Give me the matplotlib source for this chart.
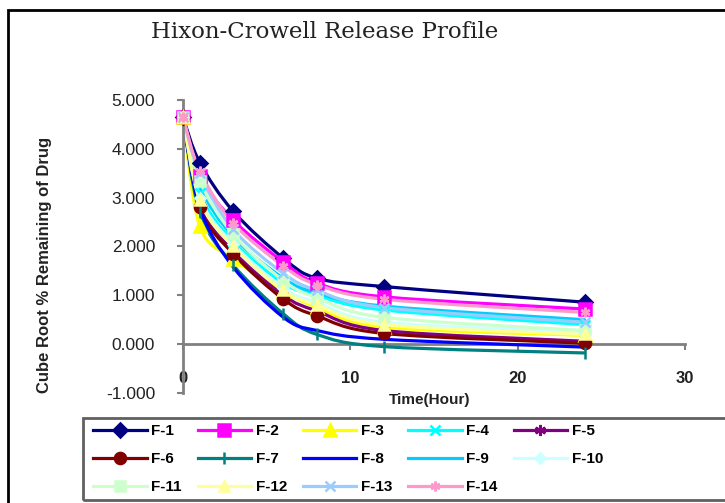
import matplotlib
matplotlib.use('Agg')
import matplotlib.pyplot as plt
import numpy as np
from matplotlib.path import Path
from matplotlib.patches import PathPatch, Rectangle
from matplotlib.lines import Line2D

# Data: cube root of % drug remaining vs time (hours)

hours = [0, 1, 3, 6, 8, 12, 24]
start = 4.642

f1 = [start, 3.72, 2.72, 1.76, 1.35, 1.18, 0.86]
f2 = [start, 3.45, 2.54, 1.68, 1.25, 0.97, 0.72]
f3 = [start, 2.42, 1.75, 1.08, 0.76, 0.35, 0.18]
f4 = [start, 3.10, 2.10, 1.25, 1.00, 0.70, 0.40]
f5 = [start, 2.85, 1.90, 1.00, 0.68, 0.28, 0.06]
f6 = [start, 2.80, 1.85, 0.92, 0.58, 0.22, 0.02]
f7 = [start, 2.70, 1.62, 0.62, 0.20, -0.05, -0.18]
f8 = [start, 2.80, 1.58, 0.55, 0.28, 0.10, -0.06]
f9 = [start, 3.25, 2.20, 1.35, 1.05, 0.78, 0.50]
f10 = [start, 3.00, 2.05, 1.15, 0.85, 0.45, 0.25]
f11 = [start, 3.35, 2.25, 1.30, 0.95, 0.55, 0.28]
f12 = [start, 2.95, 2.00, 1.10, 0.80, 0.40, 0.20]
f13 = [start, 3.50, 2.35, 1.45, 1.10, 0.75, 0.45]
f14 = [start, 3.55, 2.48, 1.60, 1.22, 0.92, 0.65]

names = ['F-1', 'F-2', 'F-3', 'F-4', 'F-5', 'F-6', 'F-7',
         'F-8', 'F-9', 'F-10', 'F-11', 'F-12', 'F-13', 'F-14']
series = [f1, f2, f3, f4, f5, f6, f7, f8, f9, f10, f11, f12, f13, f14]

colors = ['#000080', '#FF00FF', '#FFFF00', '#00FFFF', '#800080', '#800000', '#008080',
          '#0000FF', '#00CCFF', '#CCFFFF', '#CCFFCC', '#FFFF99', '#99CCFF', '#FF99CC']
star = (6, 2, 0)
markers = ['D', 's', '^', 'x', star, 'o', '|', '', '', 'D', 's', '^', 'x', star]
msizes = [7, 9, 9, 7, 8, 8, 8, 0, 0, 5, 7, 7, 7, 7]


def smooth_path(x, y):
    # Excel style smoothed line (Catmull-Rom as cubic Bezier)
    pts = np.column_stack([x, y]).astype(float)
    n = len(pts)
    verts = [pts[0]]
    codes = [Path.MOVETO]
    for i in range(n - 1):
        p0 = pts[max(i - 1, 0)]
        p1 = pts[i]
        p2 = pts[i + 1]
        p3 = pts[min(i + 2, n - 1)]
        verts += [p1 + (p2 - p0) / 6.0, p2 - (p3 - p1) / 6.0, p2]
        codes += [Path.CURVE4] * 3
    return Path(verts, codes)


W, H = 725, 503
fig = plt.figure(figsize=(W / 100, H / 100), dpi=100)
fig.patch.set_facecolor('white')

def fx(px):
    return px / W

def fy(py):
    return 1 - py / H

# plot area: x=0 at 183px, x=30 at 685px; y=5 at 100px, y=-1 at 393px
ax = fig.add_axes([fx(183), fy(393), fx(685) - fx(183), fy(100) - fy(393)])
ax.set_xlim(0, 30)
ax.set_ylim(-1, 5)

for vals, c, m, ms in zip(series, colors, markers, msizes):
    ax.add_patch(PathPatch(smooth_path(hours, vals), facecolor='none', edgecolor=c,
                           lw=2.3, capstyle='round', joinstyle='round', zorder=2))
    if m:
        ax.plot(hours, vals, linestyle='none', marker=m, markersize=ms, color=c,
                markeredgecolor=c, markeredgewidth=1.8, zorder=3, clip_on=False)

# axes styling
for side in ['top', 'right', 'bottom']:
    ax.spines[side].set_visible(False)
ax.spines['left'].set_color('#808080')
ax.spines['left'].set_linewidth(2)
ax.set_yticks([-1, 0, 1, 2, 3, 4, 5])
ax.set_yticklabels(['{:.3f}'.format(v) for v in [-1, 0, 1, 2, 3, 4, 5]])
ax.tick_params(axis='y', direction='out', length=4, width=1.5, color='#808080',
               pad=16, labelsize=12.5, labelcolor='#222222')
for lab in ax.get_yticklabels():
    lab.set_fontfamily('Liberation Sans')

ax.set_xticks([0, 10, 20, 30])
ax.tick_params(axis='x', length=0, pad=-16, labelsize=12)
for lab in ax.get_xticklabels():
    lab.set_fontfamily('Liberation Sans')
    lab.set_fontweight('bold')
    lab.set_color('#222222')

# x axis line crosses at y = 0
sec = ax.secondary_xaxis(1.0 / 6.0)
sec.set_xticks([0, 10, 20, 30])
sec.set_xticklabels([])
sec.spines['bottom'].set_color('#808080')
sec.spines['bottom'].set_linewidth(2)
sec.tick_params(axis='x', direction='out', length=4, width=1.5, color='#808080')

# titles
fig.text(fx(325), fy(32), 'Hixon-Crowell Release Profile', ha='center', va='center',
         fontsize=16.5, family='DejaVu Serif', color='#222222')
fig.text(fx(45), fy(265), 'Cube Root % Remaining of Drug', rotation=90, ha='center',
         va='center', fontsize=12, fontweight='bold',
         family=['Liberation Sans Narrow', 'Liberation Sans'], color='#222222')
fig.text(fx(430), fy(400), 'Time(Hour)', ha='center', va='center', fontsize=11,
         fontweight='bold', family='Liberation Sans', color='#222222')

# legend, row-major order like the original
order = [0, 5, 10, 1, 6, 11, 2, 7, 12, 3, 8, 13, 4, 9]
handles = []
for i in order:
    handles.append(Line2D([], [], color=colors[i], lw=2.3, marker=markers[i] if markers[i] else None,
                          markersize=msizes[i], markeredgecolor=colors[i], markeredgewidth=1.8))
leg = fig.legend(handles, [names[i] for i in order], ncol=5, loc='upper left',
                 bbox_to_anchor=(fx(81), fy(412)), frameon=False,
                 prop={'family': 'Liberation Sans', 'weight': 'bold', 'size': 11},
                 handlelength=3.5, handletextpad=0.3, columnspacing=1.04,
                 labelspacing=0.92, borderpad=0.3)

# legend frame and outer chart border
fig.patches.append(Rectangle((fx(83), fy(500)), fx(700), fy(418) - fy(500),
                             transform=fig.transFigure, fill=False,
                             edgecolor='#606060', lw=2, figure=fig))
fig.patches.append(Rectangle((fx(8), fy(560)), fx(760), fy(10) - fy(560),
                             transform=fig.transFigure, fill=False,
                             edgecolor='black', lw=2, figure=fig))

fig.savefig('out.png', dpi=100)
